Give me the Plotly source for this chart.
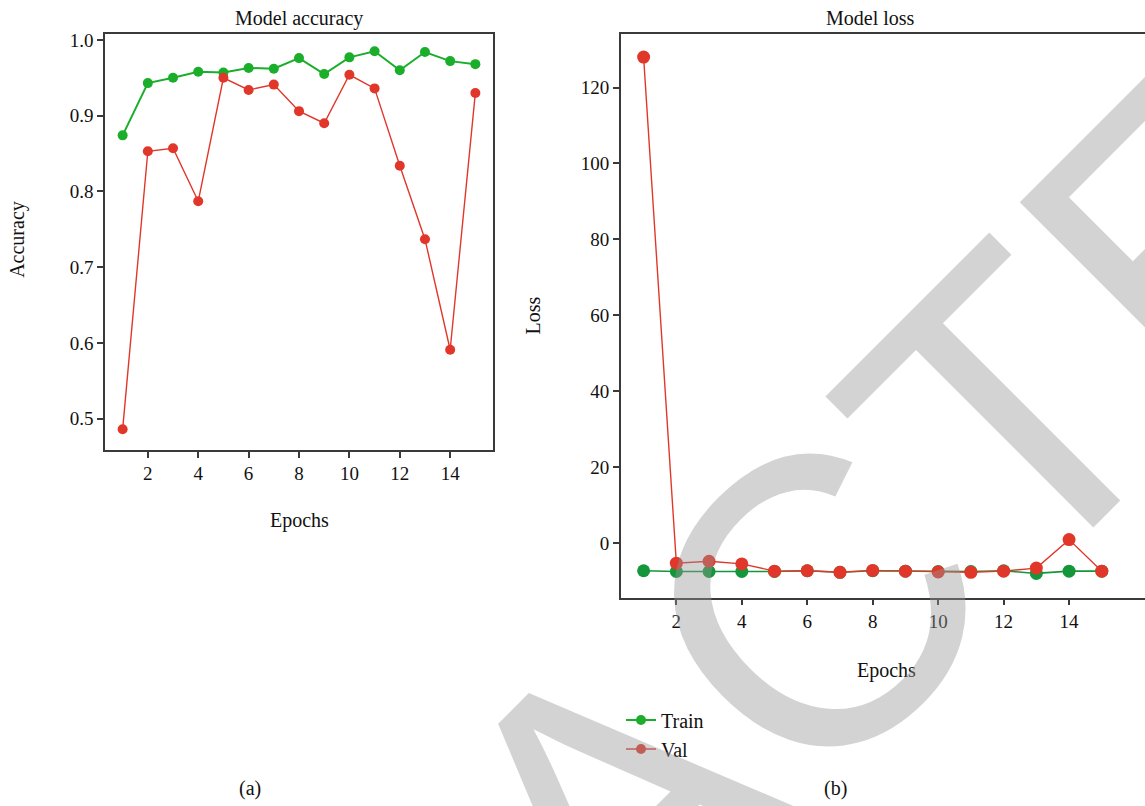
import plotly.graph_objects as go

epochs = list(range(1, 16))

acc_train = [0.874, 0.943, 0.950, 0.958, 0.957, 0.963, 0.962, 0.976, 0.955,
             0.977, 0.985, 0.960, 0.984, 0.972, 0.968]
acc_val = [0.486, 0.853, 0.857, 0.787, 0.950, 0.934, 0.941, 0.906, 0.890,
           0.954, 0.936, 0.834, 0.737, 0.591, 0.930]

loss_train = [-7.2, -7.4, -7.4, -7.4, -7.4, -7.2, -7.6, -7.2, -7.3,
              -7.4, -7.4, -7.2, -7.9, -7.3, -7.3]
loss_val = [128.0, -5.2, -4.7, -5.4, -7.3, -7.2, -7.6, -7.1, -7.3,
            -7.5, -7.6, -7.3, -6.5, 1.0, -7.3]

W, H = 1145, 806
GREEN = "#1aae2b"
GREEN2 = "#14963b"
RED = "#e1372a"
FONT = "Liberation Serif"

def px(x):
    return x / W

def py(y):
    return 1 - y / H

fig = go.Figure()

fig.add_trace(go.Scatter(x=epochs, y=acc_train, mode="lines+markers", name="Train",
                         line=dict(color=GREEN, width=2), marker=dict(color=GREEN, size=10),
                         xaxis="x", yaxis="y", showlegend=True))
fig.add_trace(go.Scatter(x=epochs, y=acc_val, mode="lines+markers", name="Val",
                         line=dict(color=RED, width=1.4), marker=dict(color=RED, size=10),
                         xaxis="x", yaxis="y", showlegend=True))
fig.add_trace(go.Scatter(x=epochs, y=loss_train, mode="lines+markers", name="Train",
                         line=dict(color=GREEN2, width=1.6), marker=dict(color=GREEN2, size=13),
                         xaxis="x2", yaxis="y2", showlegend=False))
fig.add_trace(go.Scatter(x=epochs, y=loss_val, mode="lines+markers", name="Val",
                         line=dict(color=RED, width=1.4), marker=dict(color=RED, size=13),
                         xaxis="x2", yaxis="y2", showlegend=False))

axis_common = dict(showgrid=False, zeroline=False, showline=True, linecolor="#3a3a3a",
                   linewidth=1.5, ticks="outside", ticklen=6, tickwidth=1.5,
                   tickcolor="#3a3a3a", tickfont=dict(family=FONT, size=19, color="#111"))

fig.update_layout(
    width=W, height=H,
    margin=dict(l=0, r=0, t=0, b=0),
    paper_bgcolor="white", plot_bgcolor="white",
    font=dict(family=FONT, size=19, color="#111"),
    xaxis=dict(domain=[px(105), px(493)], range=[0.3, 15.7], tickvals=[2, 4, 6, 8, 10, 12, 14],
               anchor="y", mirror=True, **axis_common),
    yaxis=dict(domain=[py(448), py(30)], range=[0.459, 1.008],
               tickvals=[0.5, 0.6, 0.7, 0.8, 0.9, 1.0], ticktext=["0.5", "0.6", "0.7", "0.8", "0.9", "1.0"],
               anchor="x", mirror=True, **axis_common),
    xaxis2=dict(domain=[px(620.7), 1.0], range=[0.3, 16.32], tickvals=[2, 4, 6, 8, 10, 12, 14],
                anchor="y2", mirror=True, **axis_common),
    yaxis2=dict(domain=[py(596.7), py(29.7)], range=[-14.3, 134.2],
                tickvals=[0, 20, 40, 60, 80, 100, 120],
                anchor="x2", mirror=False, **axis_common),
    legend=dict(x=px(621), y=py(700), xanchor="left", yanchor="top",
                font=dict(family=FONT, size=20, color="#111"), bgcolor="rgba(0,0,0,0)",
                tracegroupgap=4),
)

annotations = [
    dict(text="Model accuracy", x=px(299), y=py(15)),
    dict(text="Model loss", x=px(870), y=py(14)),
    dict(text="Epochs", x=px(299), y=py(519)),
    dict(text="Epochs", x=px(886), y=py(670)),
    dict(text="Accuracy", x=px(18), y=py(237), textangle=-90),
    dict(text="Loss", x=px(533), y=py(313), textangle=-90),
    dict(text="(a)", x=px(250), y=py(788)),
    dict(text="(b)", x=px(835), y=py(788)),
]
for a in annotations:
    fig.add_annotation(xref="paper", yref="paper", showarrow=False,
                       xanchor="center", yanchor="middle",
                       font=dict(family=FONT, size=20, color="#111"), **a)

fig.add_annotation(text="RETRACTED", xref="paper", yref="paper", x=px(612), y=py(808),
                   xanchor="center", yanchor="middle", showarrow=False, textangle=-45,
                   font=dict(family="Liberation Sans", size=410, color="rgba(150,150,150,0.42)"))

fig.write_html("out.html")
